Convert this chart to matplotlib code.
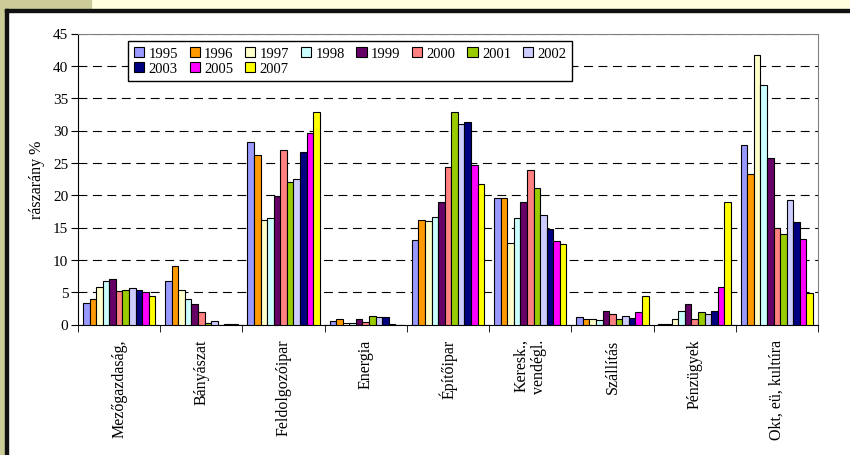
import matplotlib.pyplot as plt
import numpy as np
from matplotlib.patches import Rectangle

plt.rcParams['font.family'] = ['Liberation Serif', 'DejaVu Serif']

# nemzetgazdasági ágak
agak = ['Mezőgazdaság,', 'Bányászat', 'Feldolgozóipar', 'Energia', 'Építőipar',
        'Keresk.,\nvendégl.', 'Szállítás', 'Pénzügyek', 'Okt, eü, kultúra']

evek = ['1995', '1996', '1997', '1998', '1999', '2000', '2001', '2002', '2003', '2005', '2007']
szinek = ['#9999FF', '#FF9900', '#FFFFCC', '#CCFFFF', '#660066', '#FF8080',
          '#99CC00', '#CCCCFF', '#000080', '#FF00FF', '#FFFF00']

# részarány % évenként (ágak sorrendjében)
r1995 = [3.3, 6.7, 28.2, 0.5, 13.1, 19.6, 1.1, 0.1, 27.7]
r1996 = [4.0, 9.0, 26.2, 0.8, 16.2, 19.6, 0.9, 0.15, 23.2]
r1997 = [5.8, 5.4, 16.2, 0.3, 16.0, 12.6, 0.9, 0.9, 41.7]
r1998 = [6.7, 4.0, 16.4, 0.25, 16.6, 16.4, 0.7, 2.1, 37.1]
r1999 = [7.0, 3.2, 19.8, 0.9, 18.9, 18.9, 2.1, 3.2, 25.8]
r2000 = [5.2, 1.9, 27.0, 0.35, 24.4, 23.9, 1.7, 0.9, 15.0]
r2001 = [5.4, 0.3, 22.0, 1.3, 32.8, 21.1, 0.8, 1.9, 14.0]
r2002 = [5.6, 0.5, 22.5, 1.1, 31.0, 17.0, 1.3, 1.6, 19.3]
r2003 = [5.4, 0.0, 26.7, 1.1, 31.3, 14.8, 1.0, 2.1, 15.8]
r2005 = [5.0, 0.1, 29.6, 0.1, 24.6, 12.9, 2.0, 5.8, 13.2]
r2007 = [4.4, 0.1, 32.8, 0.0, 21.8, 12.5, 4.4, 18.9, 4.8]
adatok = [r1995, r1996, r1997, r1998, r1999, r2000, r2001, r2002, r2003, r2005, r2007]

fig = plt.figure(figsize=(8.5, 4.56), dpi=100)
W, H = 850, 456

# dia háttér: keret, sáv
def px_rect(x0, y0, x1, y1, color):
    fig.patches.append(Rectangle((x0 / W, 1 - y1 / H), (x1 - x0) / W, (y1 - y0) / H,
                                 transform=fig.transFigure, color=color, zorder=0))

px_rect(0, 0, W, 10, '#FFFFDD')
px_rect(0, 0, 91, 10, '#CCCC99')
px_rect(0, 0, 5, H, '#CCCC99')
px_rect(5, 10, W, 12.5, '#111111')
px_rect(5, 10, 7.5, H, '#111111')

ax = fig.add_axes([78 / W, 1 - 325.5 / H, 740 / W, 291 / H])

x = np.arange(len(agak))
w = 0.08
for i, (ev, sz, ert) in enumerate(zip(evek, szinek, adatok)):
    ax.bar(x - 0.44 + w * (i + 0.5), ert, width=w, color=sz, edgecolor='black',
           linewidth=0.8, label=ev, zorder=3)

ax.set_xlim(-0.5, len(agak) - 0.5)
ax.set_ylim(0, 45)
ax.set_yticks(np.arange(0, 46, 5))
ax.tick_params(axis='y', direction='out', length=5, labelsize=11, pad=2)
ax.set_xticks(x)
ax.set_xticklabels(agak, rotation=90, fontsize=11.5, multialignment='right')
ax.set_xticks(np.arange(-0.5, len(agak), 1), minor=True)
ax.tick_params(axis='x', which='major', length=0, pad=10)
ax.tick_params(axis='x', which='minor', direction='out', length=5)

ax.set_ylabel('rászarány %', fontsize=11.5, labelpad=6)

ax.set_axisbelow(True)
ax.yaxis.grid(True, linestyle=(0, (8, 5)), color='black', linewidth=0.8)
for s in ['top', 'right']:
    ax.spines[s].set_color('#808080')
ax.spines['left'].set_color('black')
ax.spines['bottom'].set_color('black')

# jelmagyarázat: két sor, az első sorban 8 év
h, l = ax.get_legend_handles_labels()
sorrend = [0, 8, 1, 9, 2, 10, 3, 4, 5, 6, 7]
leg = ax.legend([h[k] for k in sorrend], [l[k] for k in sorrend], ncol=8,
                loc='upper left', bbox_to_anchor=(0.0676, 0.974), borderaxespad=0,
                fontsize=10.5, handlelength=0.7, handleheight=0.7, handletextpad=0.3,
                columnspacing=0.8, labelspacing=0.1, borderpad=0.4,
                fancybox=False, framealpha=1, edgecolor='black')
leg.get_frame().set_linewidth(1)

fig.savefig('out.png', dpi=100)
